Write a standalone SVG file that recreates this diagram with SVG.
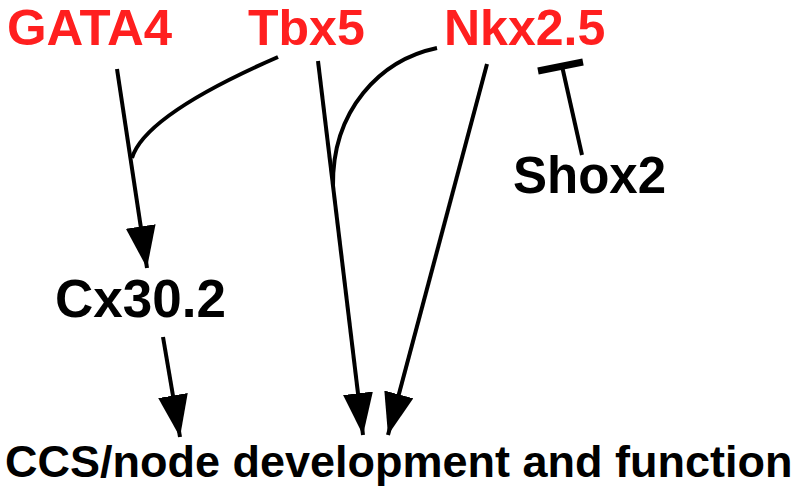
<svg xmlns="http://www.w3.org/2000/svg" width="800" height="496" viewBox="0 0 800 496">
<style>
.red{fill:#ff1f1f;font-family:"Liberation Sans",Arial,sans-serif;font-weight:bold;font-size:50px}
.blk{fill:#000;font-family:"Liberation Sans",Arial,sans-serif;font-weight:bold}
.ln{fill:none;stroke:#000;stroke-width:4}
</style>
<defs>
<marker id="ah" markerUnits="userSpaceOnUse" markerWidth="44" markerHeight="32" refX="42" refY="15" orient="auto">
<path d="M0,0 L42,15 L0,30 z" fill="#000"/>
</marker>
</defs>
<rect width="800" height="496" fill="#fff"/>
<g id="gata4"><text class="red" x="7" y="45" textLength="165" lengthAdjust="spacingAndGlyphs">GATA4</text></g>
<g id="tbx5"><text class="red" x="248" y="45">Tbx5</text></g>
<g id="nkx25"><text class="red" x="444" y="45">Nkx2.5</text></g>
<g id="shox2"><text class="blk" x="513" y="193" font-size="51">Shox2</text></g>
<g id="cx302"><text class="blk" x="55" y="317" font-size="53">Cx30.2</text></g>
<g id="ccs"><text class="blk" x="5" y="477" font-size="45">CCS/node development and function</text></g>
<g id="connectors">
<path class="ln" d="M117,69 L147,268" marker-end="url(#ah)"/>
<path class="ln" d="M132,158 Q145,115 278,57"/>
<path class="ln" d="M318,61 L363,435" marker-end="url(#ah)"/>
<path class="ln" d="M333,186 C332,110 380,60 437,48"/>
<path class="ln" d="M487,64 L388,435" marker-end="url(#ah)"/>
<path class="ln" d="M163,337 L180,437" marker-end="url(#ah)"/>
<path class="ln" d="M582,155 L562,66"/>
<path d="M538,71 L583,62" stroke="#000" stroke-width="7" fill="none"/>
</g>
</svg>
